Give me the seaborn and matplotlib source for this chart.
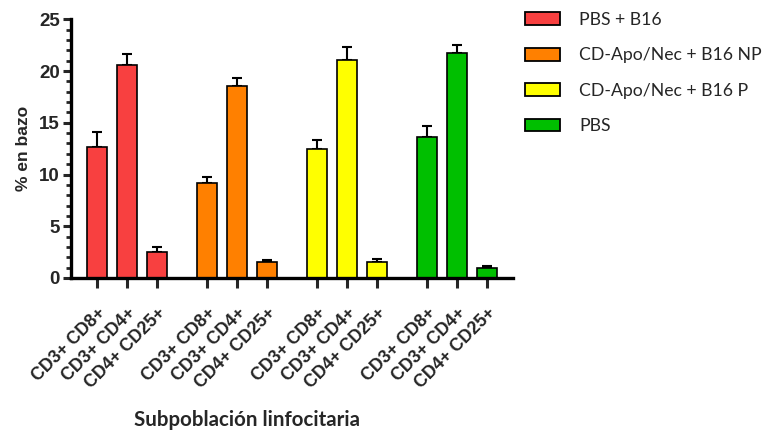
import numpy as np
import pandas as pd
import matplotlib
matplotlib.use("Agg")
import matplotlib.pyplot as plt
from matplotlib.patches import Patch
from matplotlib.ticker import MultipleLocator
import seaborn as sns

# Lymphocyte subpopulations in spleen (% of cells), mean and SEM per treatment group
groups = ["PBS + B16", "CD-Apo/Nec + B16 NP", "CD-Apo/Nec + B16 P", "PBS"]
subsets = ["CD3+ CD8+", "CD3+ CD4+", "CD4+ CD25+"]
pbs_b16_mean = [12.7, 20.6, 2.5]
pbs_b16_sem = [1.4, 1.0, 0.45]
np_mean = [9.2, 18.6, 1.5]
np_sem = [0.6, 0.7, 0.28]
p_mean = [12.5, 21.1, 1.55]
p_sem = [0.85, 1.2, 0.3]
pbs_mean = [13.6, 21.7, 1.0]
pbs_sem = [1.05, 0.8, 0.16]
colors = ["#f84040", "#ff8000", "#ffff00", "#00bf00"]

means = [pbs_b16_mean, np_mean, p_mean, pbs_mean]
sems = [pbs_b16_sem, np_sem, p_sem, pbs_sem]

# bar slots: three bars per group, groups separated by an extra gap
step, gap = 1.0, 2.0 / 3.0
rows = []
for gi, g in enumerate(groups):
    for si, s in enumerate(subsets):
        rows.append({"pos": gi * (3 * step + gap) + si * step,
                     "group": g, "subset": s,
                     "mean": means[gi][si], "sem": sems[gi][si]})
df = pd.DataFrame(rows)

sns.set_theme(style="ticks")
plt.rcParams["font.family"] = ["Liberation Sans", "DejaVu Sans"]

fig = plt.figure(figsize=(7.64, 4.34), dpi=100)
ax = fig.add_axes([71 / 764, 1 - 278 / 434, (513 - 71) / 764, (278 - 19.3) / 434])

sns.barplot(data=df, x="pos", y="mean", hue="group", palette=colors,
            saturation=1, native_scale=True, dodge=False, width=2 / 3,
            errorbar=None, edgecolor="black", linewidth=1.2, legend=False,
            ax=ax, zorder=2)

# upper SEM whiskers
ax.errorbar(df["pos"], df["mean"], yerr=[np.zeros(len(df)), df["sem"]],
            fmt="none", ecolor="black", elinewidth=1.5, capsize=3.6,
            capthick=1.5, zorder=1)

ax.set_xlim(-0.867, df["pos"].max() + 0.867)
ax.set_ylim(0, 25)
ax.yaxis.set_major_locator(MultipleLocator(5))
ax.yaxis.set_minor_locator(MultipleLocator(1))
ax.set_xticks(df["pos"])
ax.set_xticklabels(df["subset"], rotation=45, ha="right",
                   rotation_mode="anchor", fontweight="bold", fontsize=12.8)
for lab in ax.get_yticklabels():
    lab.set_fontweight("bold")
ax.tick_params(axis="y", which="major", labelsize=13.5, length=6, width=2.2, pad=2)
ax.tick_params(axis="y", which="minor", length=3.5, width=2)
ax.tick_params(axis="x", which="major", length=7, width=2.2, pad=12)

sns.despine(ax=ax)
for side in ("left", "bottom"):
    ax.spines[side].set_linewidth(2.4)
    ax.spines[side].set_color("black")

ax.set_ylabel("% en bazo", fontsize=12.5, fontweight="bold", labelpad=6)
ax.set_xlabel("")
fig.text(247 / 764, 1 - 420 / 434, "Subpoblación linfocitaria",
         ha="center", va="center", fontsize=14.8, fontweight="bold",
         family=["Lato", "DejaVu Sans"])

fs = 12.7
fpx = fs * 100 / 72
handles = [Patch(facecolor=c, edgecolor="black", linewidth=1.3) for c in colors]
fig.legend(handles, groups, loc="upper left",
           bbox_to_anchor=(525 / 764, 1 - 12 / 434), frameon=False,
           prop={"family": ["Lato", "DejaVu Sans"], "size": fs},
           handlelength=35 / fpx, handleheight=13 / fpx,
           handletextpad=19 / fpx, labelspacing=1.1,
           borderpad=0, borderaxespad=0)

fig.savefig("out.png", dpi=100, facecolor="white")
